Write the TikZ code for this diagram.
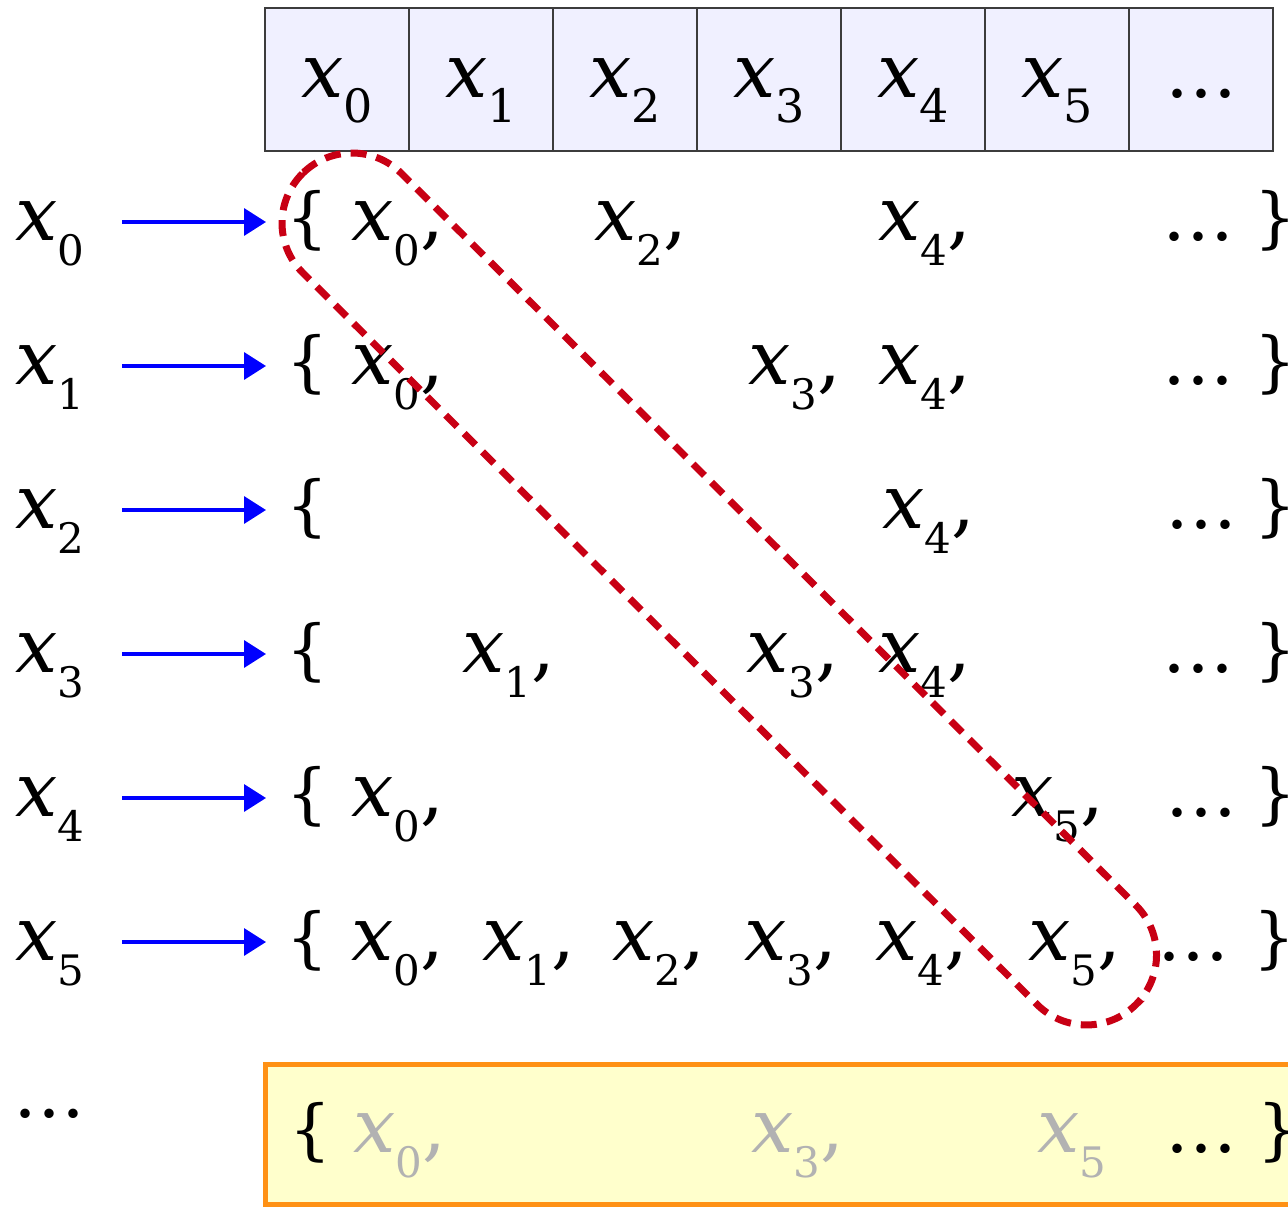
\documentclass[tikz,border=0pt]{standalone}
\usepackage{fontspec}
\setmainfont{DejaVu Serif}
\usetikzlibrary{arrows.meta}
\definecolor{cellfill}{RGB}{240,240,255}
\definecolor{cellline}{RGB}{60,60,60}
\definecolor{loopred}{RGB}{200,0,20}
\definecolor{boxorange}{RGB}{255,145,20}
\definecolor{boxfill}{RGB}{255,255,204}
\definecolor{fadegray}{RGB}{178,178,178}
\definecolor{arrblue}{RGB}{0,0,255}
\newcommand\bigx{{\fontsize{75}{75}\selectfont\itshape x}}
\newcommand\subd[1]{\raisebox{-25pt}{\fontsize{42}{42}\selectfont #1}}
\newcommand\subt[1]{\raisebox{-25pt}{\fontsize{46}{46}\selectfont #1}}
\newcommand\xel[1]{\bigx\subd{#1}}
\newcommand\xtop[1]{\bigx\subt{#1}}
\newcommand\xcom[1]{\xel{#1}{\fontsize{75}{75}\selectfont ,}}
\newcommand\lbr{{\fontsize{66}{66}\selectfont\{}}
\newcommand\rbr{{\fontsize{66}{66}\selectfont\}}}
\newcommand\dotsx{{\fontsize{72}{72}\selectfont …}}
\begin{document}
\begin{tikzpicture}[x=1pt,y=-1pt,
  elem/.style={anchor=base west, inner sep=0pt, outer sep=0pt},
  topcell/.style={draw=cellline, fill=cellfill, line width=1.2pt, minimum width=144pt, minimum height=143pt, inner sep=0pt},
  toplabel/.style={anchor=base, inner sep=0pt},
  arr/.style={draw=arrblue, line width=3.5pt, -{Triangle[length=22pt,width=27pt]}},
  diagloop/.style={draw=loopred, line width=7pt, dash pattern=on 16pt off 10pt, rounded corners=70pt},
  faded/.style={elem, text=fadegray}]
\useasboundingbox (0,0) rectangle (1288,1207);
\begin{scope}
\clip (0,0) rectangle (1288,1207);
% top cells
\foreach \i/\t in {0/0,1/1,2/2,3/3,4/4,5/5} {
  \node[topcell] (c\i) at ({337+144*\i},79.5) {};
  \node[toplabel] (ct\i) at ({337+144*\i},97) {\xtop{\t}};
}
\node[topcell] (c6) at (1201,79.5) {};
\node[toplabel] (ct6) at (1201,97) {\dotsx};

% bottom box
\node[draw=boxorange, fill=boxfill, line width=5pt, anchor=north west, outer sep=0pt, minimum width=1040pt, minimum height=140pt, inner sep=0pt] (bbox) at (265.5,1064.5) {};

% left labels
\foreach \i/\yy in {0/240,1/384,2/528,3/672,4/816,5/960} {
  \node[elem] (l\i) at (15,\yy) {\xel{\i}};
  \coordinate (as\i) at (122,\yy-18);
  \coordinate (ae\i) at (266,\yy-18);
  \draw[arr] (as\i) -- (ae\i);
}
\node[elem] (ldots) at (13,1117) {\dotsx};

% row 0
\node[elem] (r0b) at (286,240) {\lbr};
\node[elem] (r0x0) at (351,240) {\xcom0};
\node[elem] (r0x2) at (594,240) {\xcom2};
\node[elem] (r0x4) at (878,240) {\xcom4};
\node[elem] (r0d) at (1162,240) {\dotsx};
\node[elem] (r0e) at (1254,240) {\rbr};
% row 1
\node[elem] (r1b) at (286,384) {\lbr};
\node[elem] (r1x0) at (351,384) {\xcom0};
\node[elem] (r1x3) at (748,384) {\xcom3};
\node[elem] (r1x4) at (878,384) {\xcom4};
\node[elem] (r1d) at (1162,384) {\dotsx};
\node[elem] (r1e) at (1254,384) {\rbr};
% row 2
\node[elem] (r2b) at (286,528) {\lbr};
\node[elem] (r2x4) at (882,528) {\xcom4};
\node[elem] (r2d) at (1165,528) {\dotsx};
\node[elem] (r2e) at (1254,528) {\rbr};
% row 3
\node[elem] (r3b) at (286,672) {\lbr};
\node[elem] (r3x1) at (462,672) {\xcom1};
\node[elem] (r3x3) at (746,672) {\xcom3};
\node[elem] (r3x4) at (878,672) {\xcom4};
\node[elem] (r3d) at (1162,672) {\dotsx};
\node[elem] (r3e) at (1254,672) {\rbr};
% row 4
\node[elem] (r4b) at (286,816) {\lbr};
\node[elem] (r4x0) at (351,816) {\xcom0};
\node[elem] (r4x5) at (1011,816) {\xcom5};
\node[elem] (r4d) at (1165,816) {\dotsx};
\node[elem] (r4e) at (1254,816) {\rbr};
% row 5
\node[elem] (r5b) at (286,960) {\lbr};
\node[elem] (r5x0) at (351,960) {\xcom0};
\node[elem] (r5x1) at (482,960) {\xcom1};
\node[elem] (r5x2) at (612,960) {\xcom2};
\node[elem] (r5x3) at (744,960) {\xcom3};
\node[elem] (r5x4) at (875,960) {\xcom4};
\node[elem] (r5x5) at (1028,960) {\xcom5};
\node[elem] (r5d) at (1157,960) {\dotsx};
\node[elem] (r5e) at (1253,960) {\rbr};
% bottom row
\node[elem] (r6b) at (289,1152) {\lbr};
\node[faded] (r6x0) at (353,1152) {\xcom0};
\node[faded] (r6x3) at (751,1152) {\xcom3};
\node[faded] (r6x5) at (1037,1152) {\xel5};
\node[elem] (r6d) at (1165,1152) {\dotsx};
\node[elem] (r6e) at (1257,1152) {\rbr};

% diagonal loop
\begin{scope}[shift={(352,223)}, rotate=-44.9]
\draw[diagloop] (-70,-70) rectangle (1107,70);
\end{scope}
\end{scope}
\end{tikzpicture}
\end{document}
